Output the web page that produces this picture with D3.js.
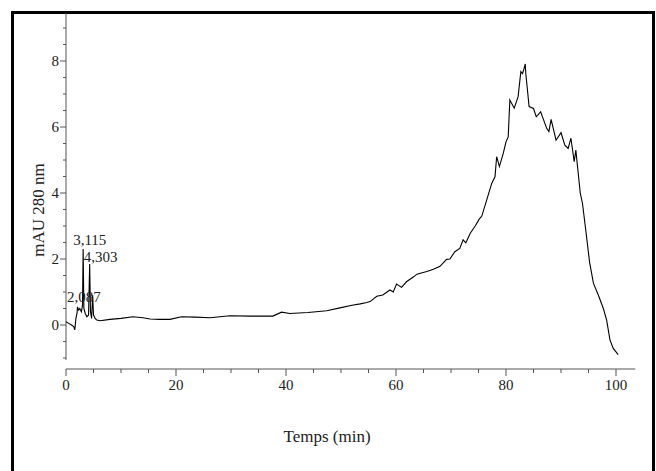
<!DOCTYPE html>
<html>
<head>
<meta charset="utf-8">
<script src="https://cdn.jsdelivr.net/npm/d3@7"></script>
<style>
  body { margin: 0; background: #fff; }
  svg text { font-family: "Liberation Serif", "Times New Roman", serif; fill: #222; }
  .axis path, .axis line { stroke: #555; }
</style>
</head>
<body>
<div id="chart"></div>
<script>
// chromatogram, 280 nm
var timeValues = [0, 0.5, 1.0, 1.4, 1.6, 1.8, 2.0, 2.087, 2.3, 2.5, 2.8, 3.0, 3.115, 3.25, 3.5, 3.8, 4.1, 4.303, 4.45, 4.65, 4.85, 5.0, 5.3, 5.6,
    6.2, 8, 10, 12.2, 14, 15.3, 17, 18.9, 21, 23.5, 26.2, 29.8, 33.5, 37.6, 39.2, 40.7, 44, 47.4, 49.8, 52, 53.5, 54.7, 55.3,
    56.5, 57.6, 58.9, 59.5, 60.1, 61, 61.9, 63.2, 63.8, 65.6, 66.8, 68, 69.2, 69.8, 70.7, 71.6, 72.2, 72.7, 73.5, 74.4, 75.1,
    75.6, 76.5, 77.4, 78, 78.3, 78.8, 79.5, 80, 80.4, 80.7, 81.5, 82.2, 82.7, 83, 83.3, 83.5, 83.6, 84.2, 85, 85.5, 86.3,
    87.4, 87.8, 88.2, 89.1, 90, 90.7, 91.3, 91.8, 92.4, 92.7, 93.5, 93.9, 94.5, 95.2, 95.9, 96.8, 97.7, 98.3, 98.9, 99.5, 100.4];
var absValues = [0.1, 0.05, 0.0, -0.05, -0.15, 0.2, 0.35, 0.55, 0.45, 0.5, 0.4, 0.6, 2.3, 0.5, 0.35, 0.25, 0.3, 1.85, 0.4, 0.2, 0.9, 0.3, 0.2, 0.15,
    0.13, 0.17, 0.2, 0.25, 0.22, 0.18, 0.17, 0.17, 0.25, 0.24, 0.22, 0.28, 0.27, 0.27, 0.39, 0.35, 0.38, 0.43, 0.52, 0.6, 0.64, 0.68, 0.71,
    0.87, 0.91, 1.06, 1.0, 1.24, 1.14, 1.31, 1.46, 1.54, 1.62, 1.69, 1.78, 1.99, 2.0, 2.22, 2.32, 2.58, 2.49, 2.78, 3.0, 3.2,
    3.3, 3.79, 4.29, 4.49, 5.1, 4.8, 5.2, 5.55, 5.7, 6.82, 6.57, 6.92, 7.68, 7.62, 7.78, 7.91, 7.62, 6.62, 6.56, 6.31, 6.46,
    5.96, 5.86, 6.23, 5.6, 5.83, 5.45, 5.35, 5.66, 4.95, 5.3, 4.0, 3.69, 2.88, 1.9, 1.26, 0.9, 0.5, 0.15, -0.45, -0.71, -0.9];

var peakTimes = [2.087, 3.115, 4.303];
var peakLabels = ["2,087", "3,115", "4,303"];
var peakLabelHeights = [0.64, 2.35, 1.85];

var xTicks = [0, 20, 40, 60, 80, 100];
var yTicks = [0, 2, 4, 6, 8];

var width = 656, height = 471;

var svg = d3.select("#chart")
    .append("svg")
    .attr("width", width)
    .attr("height", height);

// outer frame
svg.append("rect")
    .attr("x", 12.5)
    .attr("y", 12.5)
    .attr("width", 641)
    .attr("height", 470)
    .attr("fill", "none")
    .attr("stroke", "#000")
    .attr("stroke-width", 3);

var xScale = d3.scaleLinear().domain([0, 100]).range([66, 616]);
var yScale = d3.scaleLinear().domain([0, 8]).range([325, 61]);

// x axis
var xAxisG = svg.append("g").attr("class", "axis").attr("transform", "translate(0,369)");
xAxisG.append("line")
    .attr("x1", xScale(0)).attr("x2", xScale(103.5))
    .attr("y1", 0).attr("y2", 0);
xAxisG.selectAll(".minor")
    .data(d3.range(0, 105, 5))
    .enter().append("line")
    .attr("x1", function(d) { return xScale(d); })
    .attr("x2", function(d) { return xScale(d); })
    .attr("y1", 0)
    .attr("y2", function(d) { return d % 20 == 0 ? 7 : 4; });
xAxisG.selectAll("text")
    .data(xTicks)
    .enter().append("text")
    .attr("x", function(d) { return xScale(d); })
    .attr("y", 21)
    .attr("text-anchor", "middle")
    .attr("font-size", "15px")
    .text(function(d) { return d; });

// y axis
var yAxisG = svg.append("g").attr("class", "axis").attr("transform", "translate(66,0)");
yAxisG.append("line")
    .attr("x1", 0).attr("x2", 0)
    .attr("y1", yScale(9.45)).attr("y2", yScale(-1.06));
yAxisG.selectAll(".minor")
    .data(d3.range(-1, 9.5, 0.5))
    .enter().append("line")
    .attr("y1", function(d) { return yScale(d); })
    .attr("y2", function(d) { return yScale(d); })
    .attr("x1", function(d) { return d % 2 == 0 ? -6 : -3; })
    .attr("x2", 0);
yAxisG.selectAll("text")
    .data(yTicks)
    .enter().append("text")
    .attr("x", -7)
    .attr("y", function(d) { return yScale(d); })
    .attr("dy", "0.35em")
    .attr("text-anchor", "end")
    .attr("font-size", "15px")
    .text(function(d) { return d; });

// axis titles
svg.append("text")
    .attr("x", 327)
    .attr("y", 442)
    .attr("text-anchor", "middle")
    .attr("font-size", "17px")
    .text("Temps (min)");
svg.append("text")
    .attr("transform", "translate(44,210) rotate(-90)")
    .attr("text-anchor", "middle")
    .attr("font-size", "17px")
    .text("mAU 280 nm");

// trace
var points = timeValues.map(function(t, i) { return [t, absValues[i]]; });
var line = d3.line()
    .x(function(d) { return xScale(d[0]); })
    .y(function(d) { return yScale(d[1]); });
svg.append("path")
    .datum(points)
    .attr("d", line)
    .attr("fill", "none")
    .attr("stroke", "#000")
    .attr("stroke-width", 1.1);

// peak labels, text starts a little left of the peak
var labelShift = [-10.5, -10, -6];
svg.selectAll(".peak")
    .data(peakTimes)
    .enter().append("text")
    .attr("class", "peak")
    .attr("x", function(d, i) { return xScale(d) + labelShift[i]; })
    .attr("y", function(d, i) { return yScale(peakLabelHeights[i]) - 2; })
    .attr("text-anchor", "start")
    .attr("font-size", "15px")
    .text(function(d, i) { return peakLabels[i]; });
</script>
</body>
</html>
